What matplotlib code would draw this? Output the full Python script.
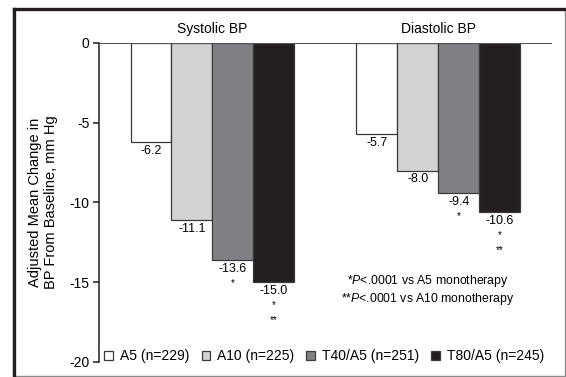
import matplotlib.pyplot as plt
from matplotlib.patches import Rectangle
import numpy as np

plt.rcParams['font.family'] = ['Liberation Sans', 'DejaVu Sans']
plt.rcParams['mathtext.fontset'] = 'custom'
plt.rcParams['mathtext.rm'] = 'Liberation Sans'
plt.rcParams['mathtext.it'] = 'Liberation Sans:italic'

groups = ['Systolic BP', 'Diastolic BP']
treatments = ['A5 (n=229)', 'A10 (n=225)', 'T40/A5 (n=251)', 'T80/A5 (n=245)']
systolic = [-6.2, -11.1, -13.6, -15.0]
diastolic = [-5.7, -8.0, -9.4, -10.6]
stars_sys = ['', '', '*', '*\n**']
stars_dia = ['', '', '*', '*\n**']
colors = ['#ffffff', '#d1d2d4', '#808184', '#231f20']
dark = '#231f20'

fig = plt.figure(figsize=(5.66, 3.77), dpi=100)

# shadowed frame around the whole figure
fig.patches.append(Rectangle((0.0225, 0.003), 0.975, 0.973, transform=fig.transFigure,
                             fill=False, edgecolor='#8a8a8a', lw=1.0))
fig.add_artist(plt.Line2D([0.0245, 0.0245], [0.003, 0.977], color=dark, lw=2.4,
                          transform=fig.transFigure, solid_capstyle='projecting'))
fig.add_artist(plt.Line2D([0.0245, 0.998], [0.977, 0.977], color=dark, lw=2.4,
                          transform=fig.transFigure, solid_capstyle='projecting'))

ax = fig.add_axes([0.175, 0.040, 0.800, 0.846])
width = 0.1814
x = np.arange(len(groups))
values = [systolic, diastolic]
stars = [stars_sys, stars_dia]

for i, name in enumerate(treatments):
    pos = x + (i - 1.5) * width
    vals = [values[g][i] for g in range(len(groups))]
    ax.bar(pos, vals, width, color=colors[i], edgecolor='#3a3a3a', lw=0.9,
           label=name, zorder=2)
    for g in range(len(groups)):
        ax.annotate(f'{vals[g]:.1f}', (pos[g], vals[g]), xytext=(0, -2),
                    textcoords='offset points', ha='center', va='top', fontsize=9)
        if stars[g][i]:
            ax.annotate(stars[g][i], (pos[g], vals[g]), xytext=(0, -13),
                        textcoords='offset points', ha='center', va='top',
                        fontsize=7, linespacing=1.6)

ax.axhline(0, color='#555555', lw=1.5, zorder=3)

for g, name in enumerate(groups):
    ax.annotate(name, (x[g], 0), xytext=(0, 10), textcoords='offset points',
                ha='center', va='center', fontsize=10)

ax.text(0.954, -15.5, '*$\\it{P}$<.0001 vs A5 monotherapy\n**$\\it{P}$<.0001 vs A10 monotherapy',
        ha='center', va='center', fontsize=8.8, multialignment='center')

ax.set_xlim(-0.502, 1.502)
ax.set_ylim(-20, 0)
ax.set_yticks([0, -5, -10, -15, -20])
ax.set_yticklabels(['0', '-5', '-10', '-15', '-20'])
ax.set_xticks([])
for s in ['top', 'right', 'bottom']:
    ax.spines[s].set_visible(False)
ax.spines['left'].set_color(dark)
ax.spines['left'].set_linewidth(1.1)
ax.tick_params(axis='y', direction='out', length=4, width=1.1, color=dark,
               labelsize=10, pad=3)
ax.set_ylabel('Adjusted Mean Change in\nBP From Baseline, mm Hg', fontsize=10.5,
              labelpad=8)

ax.legend(loc='center', bbox_to_anchor=(0.497, 0.018), ncol=4, frameon=False,
          fontsize=10, handlelength=0.6, handleheight=0.6, handletextpad=0.5,
          columnspacing=0.9, borderaxespad=0)

fig.savefig('out.png', dpi=100)
